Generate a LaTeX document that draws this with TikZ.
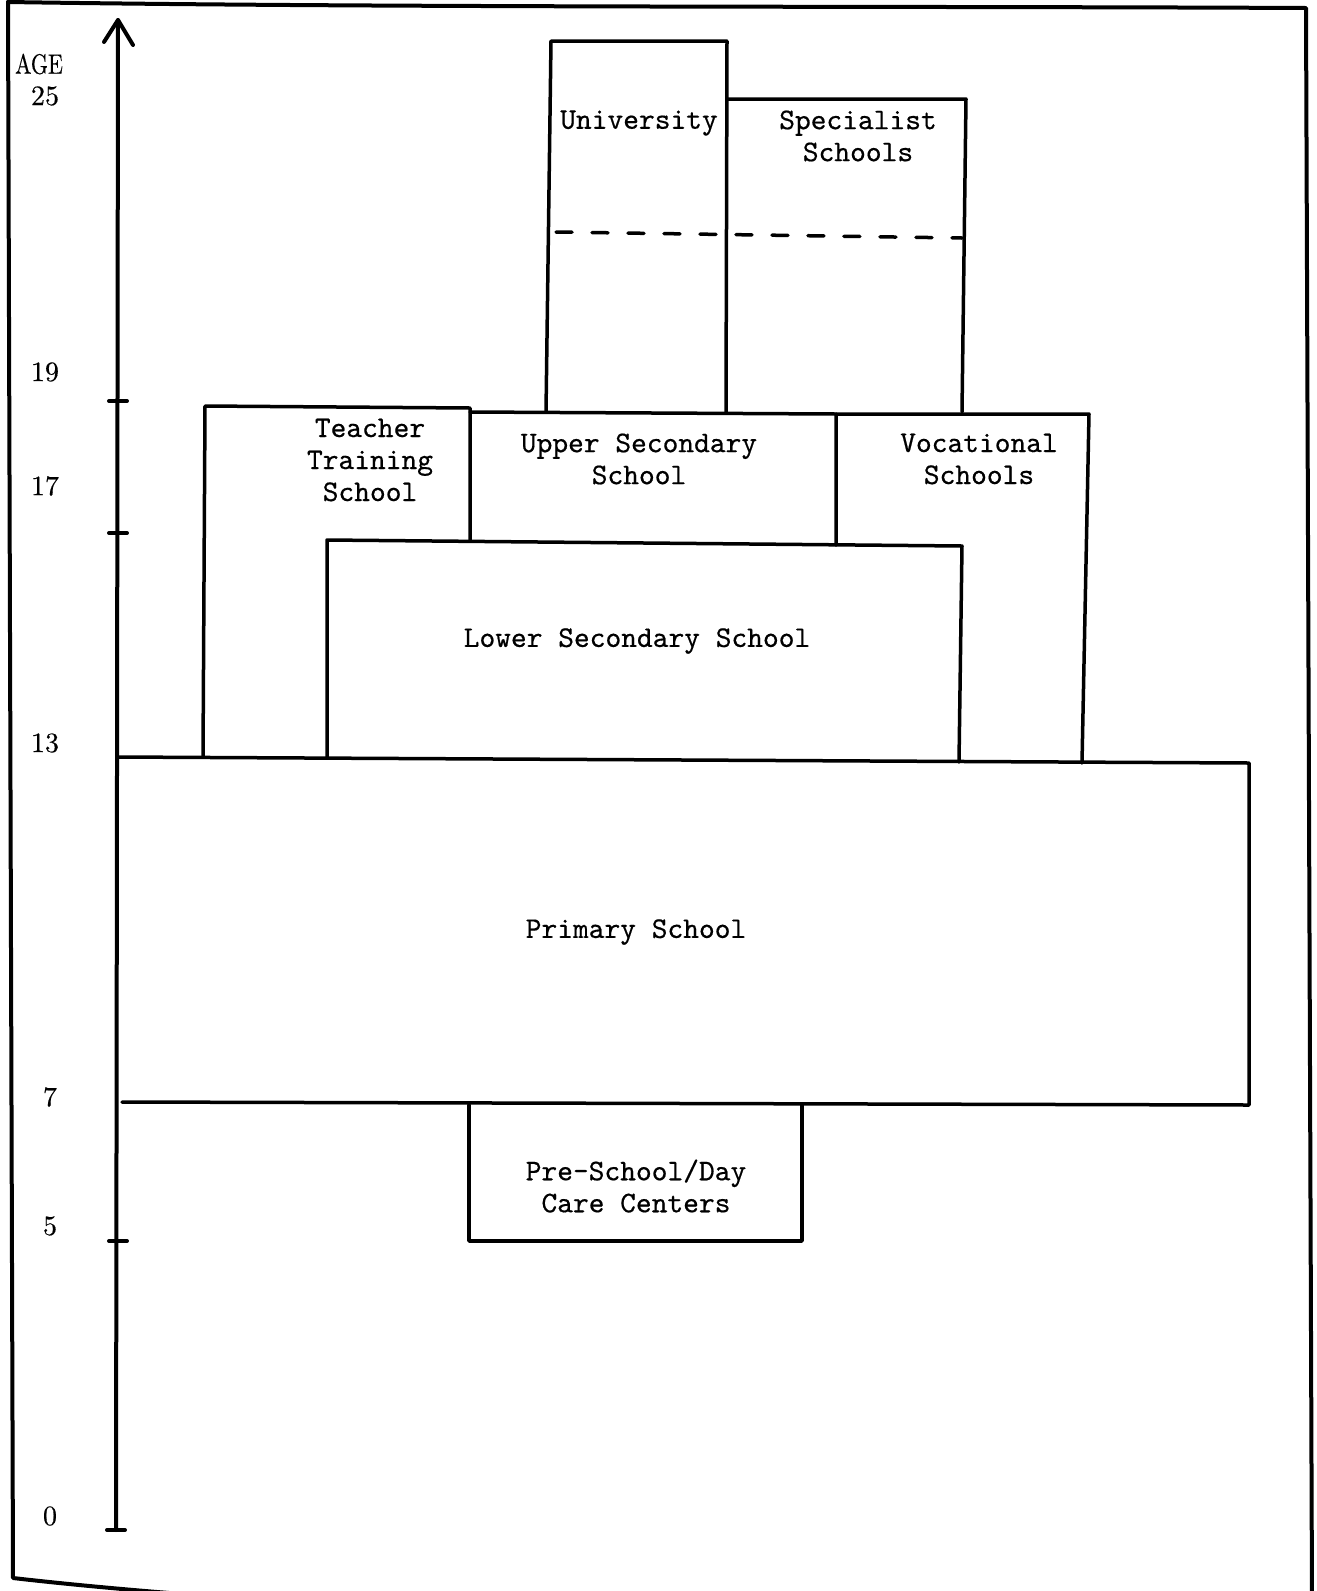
\documentclass[tikz,border=0pt]{standalone}
\usepackage{fontspec}
\newfontfamily\typew{lmmono10-regular}[Extension=.otf,FakeBold=0.5]
\newfontfamily\agefont{lmroman10-regular}[Extension=.otf,FakeBold=0.4]
\begin{document}
\begin{tikzpicture}[x=0.5pt,y=-0.5pt,line join=round,line cap=round]
\tikzset{
  box/.style={line width=1.75pt},
  heavy/.style={line width=2pt},
  lbl/.style={font=\fontsize{15}{16}\selectfont\typew,align=center,inner sep=0pt},
  age/.style={font=\fontsize{14}{16}\selectfont\agefont,inner sep=0pt}
}
\useasboundingbox (0,0) rectangle (1317,1591);
\clip (0,0) rectangle (1317,1591);
% frame
\draw[heavy] (8,2) .. controls (400,8) and (900,6) .. (1306,8) -- (1312,1600);
\draw[heavy] (8,2) -- (13,1578) .. controls (100,1588) and (200,1596) .. (320,1604);
% axis
\coordinate (axtop) at (118,20);
\coordinate (axbot) at (116,1530);
\draw[heavy] (axbot) -- (axtop);
\draw[heavy] (104,42) -- (axtop) -- (133,45);
\draw[heavy] (107,1530) -- (125,1530);
\foreach \yy in {401,533,1241} \draw[heavy] (109,\yy) -- (127,\yy);
% age labels
\node[age] (lage) at (39,64) {\scalebox{0.78}[1]{AGE}};
\node[age] (l25) at (45,96) {25};
\node[age] (l19) at (45,372) {19};
\node[age] (l17) at (45,486) {17};
\node[age] (l13) at (45,743) {13};
\node[age] (l7) at (50,1097) {7};
\node[age] (l5) at (50,1226) {5};
\node[age] (l0) at (50,1516) {0};
% boxes
\draw[box] (546,412) -- (551,41) -- (727,41) -- (726,412);
\draw[box] (727,99) -- (966,99) -- (962,412);
\draw[box,dash pattern=on 8pt off 10pt] (556,232) -- (962,238);
\draw[box] (203,757) -- (205,406) -- (470,408) -- (470,540);
\draw[box] (470,412) -- (836,414) -- (836,545);
\draw[box] (836,414) -- (1089,414) -- (1082,763);
\draw[box] (327,757) -- (327,540) -- (962,546) -- (959,762);
\draw[box] (118,757) -- (1249,763) -- (1249,1105) -- (122,1102);
\draw[box] (469,1105) -- (469,1241) -- (802,1241) -- (802,1105);
% texts
\node[lbl] (uni) at (639,123) {University};
\node[lbl] (spec) at (858,136) {Specialist\\Schools};
\node[lbl] (teach) at (370,460) {Teacher\\Training\\School};
\node[lbl] (upper) at (639,459) {Upper Secondary\\School};
\node[lbl] (voc) at (979,459) {Vocational\\Schools};
\node[lbl] (lower) at (637,641) {Lower Secondary School};
\node[lbl] (prim) at (636,932) {Primary School};
\node[lbl] (pre) at (636,1186) {Pre-School/Day\\Care Centers};
\end{tikzpicture}
\end{document}
